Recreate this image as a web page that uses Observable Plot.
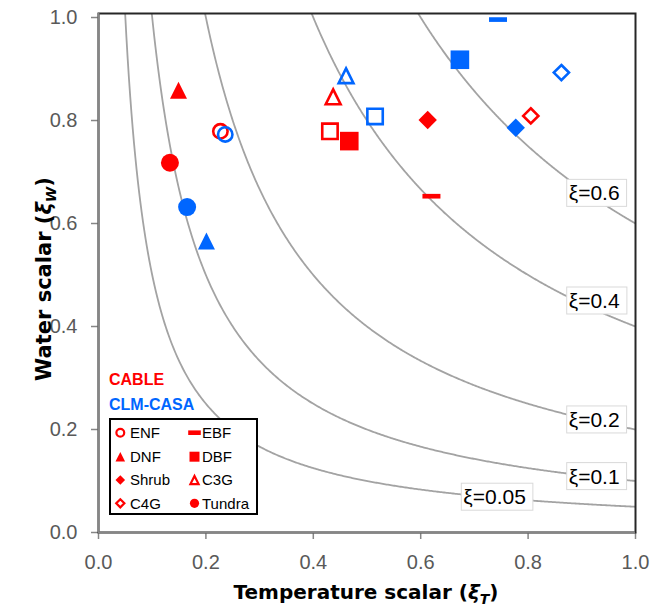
<!DOCTYPE html>
<html><head><meta charset="utf-8">
<script src="https://cdn.jsdelivr.net/npm/d3@7"></script>
<script src="https://cdn.jsdelivr.net/npm/@observablehq/plot@0.6"></script>
<style>body{margin:0;background:#fff} #chart{width:665px;height:610px}</style>
</head><body><div id="chart"></div>
<script>
// ---- data ----
const pfts   = ["Other","ENF","EBF","DNF","Shrub","C3G","C4G","Tundra","DBF"];
const cableX = [0.431,0.227,0.620,0.149,0.613,0.437,0.805,0.133,0.467];
const cableY = [0.779,0.779,0.653,0.859,0.801,0.846,0.809,0.718,0.760];
const clmX   = [0.515,0.236,0.744,0.201,0.777,0.461,0.862,0.165,0.673];
const clmY   = [0.808,0.773,0.996,0.566,0.786,0.887,0.893,0.632,0.918];
const models = ["CABLE","CLM-CASA"];
const modelColors = ["#FF0000","#0066FF"];
const levels = [0.05,0.1,0.2,0.4,0.6];
const levelLabelX = [0.7376,0.923,0.923,0.923,0.923];
const levelLabelY = [0.068,0.108,0.218,0.449,0.658];
const tickValues = [0,0.2,0.4,0.6,0.8,1.0];
const legendItems = ["ENF","EBF","DNF","DBF","Shrub","C3G","C4G","Tundra"];

// ---- symbols ----
const half = s => Math.sqrt(s/Math.PI);
const sym = {
  circle:{draw(c,s){const r=half(s);c.moveTo(r,0);c.arc(0,0,r,0,2*Math.PI);c.closePath();}},
  triangle:{draw(c,s){const r=half(s);c.moveTo(0,-r);c.lineTo(r,r);c.lineTo(-r,r);c.closePath();}},
  square:{draw(c,s){const r=half(s);c.moveTo(-r,-r);c.lineTo(r,-r);c.lineTo(r,r);c.lineTo(-r,r);c.closePath();}},
  diamond:{draw(c,s){const r=half(s);c.moveTo(0,-r);c.lineTo(r,0);c.lineTo(0,r);c.lineTo(-r,0);c.closePath();}},
  dash:{draw(c,s){const r=half(s),h=Math.max(2.3,r*0.26);c.moveTo(-r,-h);c.lineTo(r,-h);c.lineTo(r,h);c.lineTo(-r,h);c.closePath();}}
};
const style = {
  Other:{s:"square",open:true,r:7.7},
  ENF:{s:"circle",open:true,r:7.2},
  EBF:{s:"dash",open:false,r:9},
  DNF:{s:"triangle",open:false,r:8.5},
  DBF:{s:"square",open:false,r:9.3},
  Shrub:{s:"diamond",open:false,r:9.2},
  C3G:{s:"triangle",open:true,r:7.4},
  C4G:{s:"diamond",open:true,r:7.6},
  Tundra:{s:"circle",open:false,r:9}
};

const points = pfts.flatMap((p,i)=>[
  {pft:p, model:models[0], x:cableX[i], y:cableY[i]},
  {pft:p, model:models[1], x:clmX[i], y:clmY[i]}
]);
const yTop = 1.0078;
const curves = levels.flatMap(c => d3.range(0,401).map(k=>{
  const x0 = c/yTop, x = x0 + (1-x0)*k/400; return {level:c, x, y:c/x};
}));
const labels = levels.map((c,i)=>({x:levelLabelX[i], y:levelLabelY[i], text:"ξ="+c}));

const dotMarks = pfts.map(p=>{
  const st = style[p];
  const opts = {x:"x", y:"y", r:st.r, symbol:sym[st.s]};
  if (st.open) Object.assign(opts,{stroke:"model", fill:"none", strokeWidth:2.6});
  else Object.assign(opts,{fill:"model", stroke:"none"});
  return Plot.dot(points.filter(d=>d.pft===p), opts);
});

const fmt = d3.format(".1f");
const svg = Plot.plot({
  width:665, height:610,
  marginLeft:98, marginRight:30, marginTop:13, marginBottom:78,
  style:{fontFamily:"'Liberation Sans', Arial, sans-serif", fontSize:"20px", color:"#595959", background:"#fff"},
  x:{domain:[0,1], ticks:tickValues, tickFormat:fmt, tickSize:7, tickPadding:15, label:null},
  y:{domain:[0,yTop], ticks:tickValues, tickFormat:fmt, tickSize:7, tickPadding:14, label:null},
  color:{domain:models, range:modelColors},
  marks:[
    Plot.line(curves,{x:"x", y:"y", z:"level", stroke:"#A3A3A3", strokeWidth:1.8, clip:true}),
    Plot.frame({stroke:"#262626", strokeWidth:2}),
    Plot.ruleX([0],{stroke:"#868686", strokeWidth:2}),
    Plot.ruleY([0],{stroke:"#868686", strokeWidth:2}),
    Plot.text(labels,{x:"x", y:"y", text:"text", fontSize:21, fill:"#000", fontFamily:"'Liberation Sans', Arial, sans-serif"}),
    ...dotMarks
  ]
});
document.getElementById("chart").appendChild(svg);

const S = d3.select(svg);
// boxes behind contour labels
S.selectAll("text").filter(function(){return this.textContent.startsWith("ξ=");}).each(function(){
  const b = this.getBBox();
  const tr = this.getAttribute("transform");
  const rect = document.createElementNS("http://www.w3.org/2000/svg","rect");
  rect.setAttribute("x", b.x-2); rect.setAttribute("y", b.y-2);
  rect.setAttribute("width", b.width+9); rect.setAttribute("height", b.height+4);
  rect.setAttribute("fill","#fff"); rect.setAttribute("stroke","#D9D9D9"); rect.setAttribute("stroke-width","1");
  if (tr) rect.setAttribute("transform", tr);
  this.parentNode.insertBefore(rect, this);
});
// axis tick line colour
S.selectAll("[aria-label^='x-axis'] path, [aria-label^='y-axis'] path, [aria-label^='x-axis'] line, [aria-label^='y-axis'] line").attr("stroke","#868686").attr("stroke-width",1.5);

// axis titles
const tf = "'DejaVu Sans', Verdana, sans-serif";
function title(g, main, sub, size){
  const t = g.append("text").attr("text-anchor","middle").attr("font-family",tf).attr("font-weight","bold").attr("font-size",size).attr("fill","#000");
  t.append("tspan").text(main+" (");
  t.append("tspan").attr("font-style","italic").text("ξ");
  t.append("tspan").attr("font-style","italic").attr("font-size",14).attr("dy",5).text(sub);
  t.append("tspan").attr("dy",-5).text(")");
}
title(S.append("g").attr("transform","translate(366,599)"), "Temperature scalar", "T", 20);
title(S.append("g").attr("transform","translate(51,279) rotate(-90)"), "Water scalar", "W", 21);

// legend
const lf = "'Liberation Sans', Arial, sans-serif";
const L = S.append("g").attr("text-anchor","start");
L.append("text").attr("text-anchor","start").attr("x",109).attr("y",385).attr("font-family",lf).attr("font-weight","bold").attr("font-size",16).attr("fill",modelColors[0]).text(models[0]);
L.append("text").attr("text-anchor","start").attr("x",109).attr("y",410).attr("font-family",lf).attr("font-weight","bold").attr("font-size",16).attr("fill",modelColors[1]).text(models[1]);
L.append("rect").attr("x",110).attr("y",419).attr("width",147).attr("height",95).attr("fill","#fff").attr("stroke","#000").attr("stroke-width",2);
const colMX=[120.3,194.5], colTX=[130,202], rowY=[432.7,456.7,480,503.3];
const legR = {circle:4.6, triangle:4.8, square:5, diamond:4.8, dash:6.3};
legendItems.forEach((p,i)=>{
  const col=i%2, row=Math.floor(i/2), st=style[p];
  const r = st.open ? legR[st.s]*0.85 : legR[st.s];
  const path = d3.path(); sym[st.s].draw(path, r*r*Math.PI);
  L.append("path").attr("d",path.toString()).attr("transform",`translate(${colMX[col]},${rowY[row]})`)
    .attr("fill",st.open?"none":modelColors[0]).attr("stroke",st.open?modelColors[0]:"none").attr("stroke-width",2.2);
  L.append("text").attr("text-anchor","start").attr("x",colTX[col]).attr("y",rowY[row]+5.3).attr("font-family",lf).attr("font-size",15).attr("fill","#000").text(p);
});
</script>
</body></html>
